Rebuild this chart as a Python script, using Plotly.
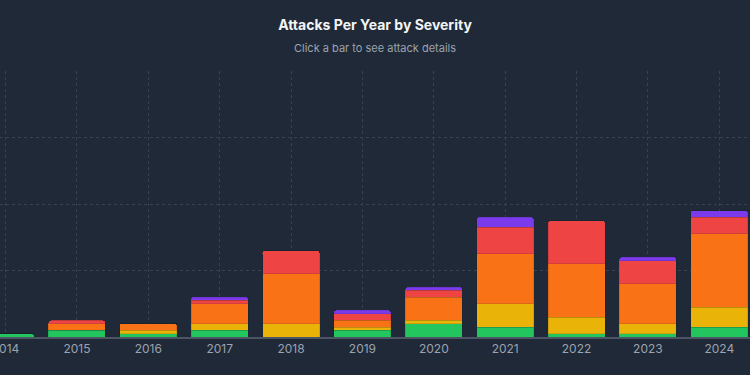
import plotly.graph_objects as go

years = ["2014", "2015", "2016", "2017", "2018", "2019", "2020", "2021", "2022", "2023", "2024"]
low      = [1, 2, 1, 2, 0, 2, 4, 3, 1, 1, 3]
medium   = [0, 0, 1, 2, 4, 1, 1, 7, 5, 3, 6]
high     = [0, 2, 2, 6, 15, 2, 7, 15, 16, 12, 22]
critical = [0, 1, 0, 1, 7, 2, 2, 8, 13, 7, 5]
extreme  = [0, 0, 0, 1, 0, 1, 1, 3, 0, 1, 2]

series = [
    ("Low", low, "#22c55e"),
    ("Medium", medium, "#eab308"),
    ("High", high, "#f97316"),
    ("Critical", critical, "#ef4444"),
    ("Extreme", extreme, "#7c3aed"),
]

fig = go.Figure()
for name, vals, color in series:
    fig.add_trace(go.Bar(
        x=years, y=vals, name=name,
        marker=dict(color=color, line=dict(color="rgba(20,25,35,0.12)", width=1)),
    ))

BG = "#1f2937"
fig.update_layout(
    width=750, height=375,
    barmode="stack", bargap=0.2, barcornerradius=3,
    paper_bgcolor=BG, plot_bgcolor=BG,
    showlegend=False,
    margin=dict(l=0, r=0, t=71, b=38, autoexpand=False),
    font=dict(family="Inter, Roboto, sans-serif", color="#9ca3af"),
    title=dict(
        text="<b>Attacks Per Year by Severity</b>",
        x=0.5, xanchor="center", xref="paper",
        y=1 - 25 / 375, yanchor="middle", yref="container",
        font=dict(size=14, color="#f3f4f6"),
    ),
    annotations=[dict(
        text="Click a bar to see attack details",
        x=0.5, xref="paper", xanchor="center",
        y=(337 - 48) / 266, yref="paper", yanchor="middle",
        showarrow=False, font=dict(size=11, color="#9ca3af"),
    )],
    xaxis=dict(
        type="category", range=[-0.078, 10.43], automargin=False,
        showgrid=True, gridcolor="#374151", griddash="dot", gridwidth=1,
        showline=True, linecolor="#4b5563", linewidth=1.5,
        ticks="", tickfont=dict(size=12, color="#9ca3af"),
    ),
    yaxis=dict(
        range=[0, 80], dtick=20, automargin=False,
        showgrid=True, gridcolor="#374151", griddash="dot", gridwidth=1,
        zeroline=False, showticklabels=False,
    ),
)

fig.write_html(
    "out.html",
    config={"displayModeBar": False},
    post_script="document.body.style.margin='0';document.body.style.overflow='hidden';",
)
